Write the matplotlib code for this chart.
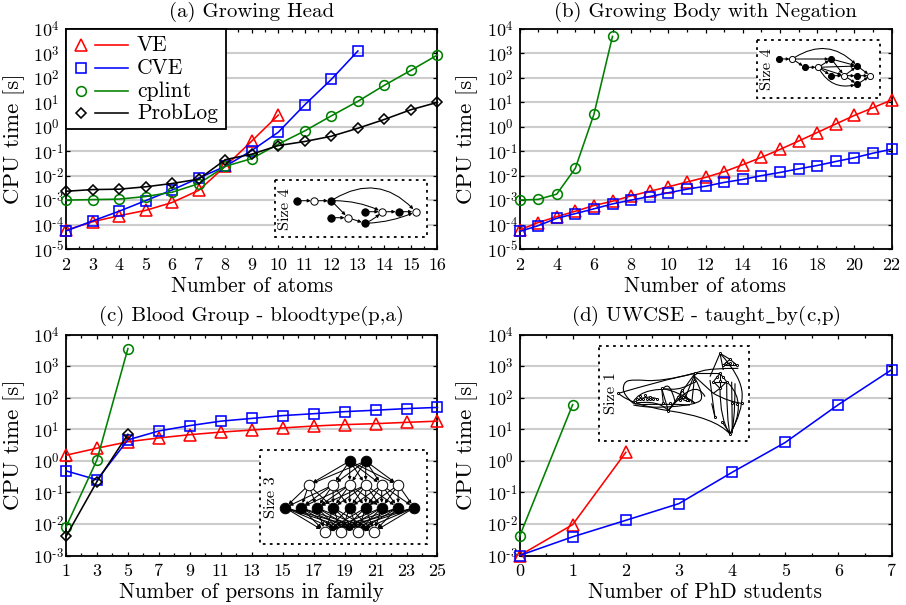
import matplotlib
matplotlib.use("Agg")
import matplotlib.pyplot as plt
from matplotlib.lines import Line2D
from matplotlib.patches import FancyArrowPatch, PathPatch, Rectangle
from matplotlib.path import Path

plt.rcParams['font.family'] = ['cmr10', 'DejaVu Sans']
plt.rcParams['mathtext.fontset'] = 'cm'
plt.rcParams['axes.formatter.use_mathtext'] = True
plt.rcParams['axes.unicode_minus'] = False

W, H = 906, 605

# (a) Growing Head
a_x_ve = list(range(2, 11))
a_ve = [5.8e-5, 1.3e-4, 2.3e-4, 3.8e-4, 8e-4, 2.5e-3, 0.024, 0.26, 3]
a_x_cve = list(range(2, 14))
a_cve = [5.5e-5, 1.4e-4, 3.5e-4, 9.5e-4, 2.6e-3, 8e-3, 0.024, 0.107, 0.6, 8, 87, 1260]
a_x_cplint = list(range(2, 17))
a_cplint = [1e-3, 1.05e-3, 1.1e-3, 1.4e-3, 2.1e-3, 4.7e-3, 0.024, 0.05, 0.195, 0.68, 2.8, 11, 50, 204, 870]
a_x_problog = list(range(2, 17))
a_problog = [2.3e-3, 2.7e-3, 2.8e-3, 3.5e-3, 4.8e-3, 7.2e-3, 0.045, 0.076, 0.17, 0.25, 0.41, 0.87, 2, 5, 10]

# (b) Growing Body with Negation
b_x_ve = list(range(2, 23))
b_ve = [6e-5, 1.2e-4, 2.1e-4, 3.5e-4, 6e-4, 9e-4, 1.5e-3, 2.3e-3, 3.5e-3, 5.5e-3, 8.5e-3,
        0.0145, 0.028, 0.056, 0.118, 0.26, 0.58, 1.3, 2.9, 6, 12.5]
b_x_cve = list(range(2, 23))
b_cve = [5.2e-5, 9e-5, 1.8e-4, 2.8e-4, 4.4e-4, 7e-4, 1e-3, 1.4e-3, 2e-3, 2.8e-3, 3.7e-3,
         5.3e-3, 7e-3, 0.01, 0.0135, 0.019, 0.026, 0.038, 0.054, 0.083, 0.12]
b_x_cplint = list(range(2, 8))
b_cplint = [1e-3, 1.07e-3, 1.75e-3, 0.02, 3.2, 5000]

# (c) Blood Group
c_x_ve = list(range(1, 26, 2))
c_ve = [1.5, 2.5, 4, 5.3, 6.7, 8.1, 9.4, 11, 12.6, 14, 15, 16.5, 18]
c_x_cve = list(range(1, 26, 2))
c_cve = [0.48, 0.25, 4.6, 8.8, 13, 18, 22, 27, 31, 36, 40, 45, 49]
c_x_cplint = [1, 3, 5]
c_cplint = [8e-3, 1.07, 3600]
c_x_problog = [1, 3, 5]
c_problog = [4e-3, 0.22, 6.9]

# (d) UWCSE
d_x_ve = [0, 1, 2]
d_ve = [1e-3, 9.5e-3, 1.85]
d_x_cve = list(range(0, 8))
d_cve = [1e-3, 3.9e-3, 0.013, 0.044, 0.43, 3.8, 60, 760]
d_x_cplint = [0, 1]
d_cplint = [4e-3, 60]

series_names = ['VE', 'CVE', 'cplint', 'ProbLog']
series_colors = ['#ff0000', '#0000ff', '#008000', '#000000']
series_markers = ['^', 's', 'o', 'D']
series_sizes = [8.0, 7.0, 7.0, 5.0]


def px_axes(left, right, top, bottom):
    return fig.add_axes([left / W, 1 - bottom / H, (right - left) / W, (bottom - top) / H])


def draw_series(ax, idx, x, y):
    ax.plot(x, y, color=series_colors[idx], marker=series_markers[idx], ms=series_sizes[idx],
            mfc='none', mew=1.15, lw=1.15, clip_on=False, zorder=3 + idx * 0.1)


def pow_label(p):
    # short hyphen in the exponent, the cm minus sign is too wide here
    if p < 0:
        return '$10^{\\text{\u2010}%d}$' % -p
    return '$10^{%d}$' % p


def style_axes(ax, title, xlabel, xticks, xminor, ylow, xlabel_y, title_pad):
    ax.set_yscale('log')
    ax.set_xlim(xticks[0], xticks[-1])
    ax.set_ylim(10.0 ** ylow, 1e4)
    ax.set_xticks(xticks)
    ax.set_xticklabels([str(t) for t in xticks], fontsize=13)
    ax.set_xticks(xminor, minor=True)
    ypow = list(range(ylow, 5))
    ax.set_yticks([10.0 ** p for p in ypow])
    ax.set_yticklabels([pow_label(p) for p in ypow], fontsize=13, ha='left')
    ax.yaxis.set_minor_locator(matplotlib.ticker.NullLocator())
    ax.tick_params(axis='both', which='major', direction='in', top=True, right=True, length=3.2, width=0.9)
    ax.tick_params(axis='x', which='major', pad=6)
    # the exponent labels start at the same x, so pad is the full gap to the axis
    ax.tick_params(axis='y', which='major', pad=23.5)
    ax.tick_params(which='minor', direction='in', top=True, length=2.2, width=0.9)
    ax.grid(axis='y', color='#cccccc', lw=1.5, zorder=1)
    ax.set_axisbelow(True)
    for s in ax.spines.values():
        s.set_linewidth(1.3)
    ax.set_title(title, fontsize=15, pad=title_pad)
    ax.set_xlabel(xlabel, fontsize=15.3, va='center')
    ax.xaxis.set_label_coords(0.5, xlabel_y)
    ax.set_ylabel('CPU time [s]', fontsize=16.5, va='center')
    ax.yaxis.set_label_coords(-52 / 371, 0.5)


fig = plt.figure(figsize=(W / 100, H / 100), dpi=100)

ax_a = px_axes(66, 437.5, 29, 249)
draw_series(ax_a, 0, a_x_ve, a_ve)
draw_series(ax_a, 1, a_x_cve, a_cve)
draw_series(ax_a, 2, a_x_cplint, a_cplint)
draw_series(ax_a, 3, a_x_problog, a_problog)
style_axes(ax_a, '(a) Growing Head', 'Number of atoms', list(range(2, 17)),
           [i + 0.5 for i in range(2, 16)], -5, -37 / 220, 8.5)

ax_b = px_axes(519.5, 891.5, 29, 249)
draw_series(ax_b, 0, b_x_ve, b_ve)
draw_series(ax_b, 1, b_x_cve, b_cve)
draw_series(ax_b, 2, b_x_cplint, b_cplint)
style_axes(ax_b, '(b) Growing Body with Negation', 'Number of atoms', list(range(2, 23, 2)),
           list(range(3, 22, 2)), -5, -37 / 220, 8.5)

ax_c = px_axes(66, 437.5, 334.5, 555.5)
draw_series(ax_c, 0, c_x_ve, c_ve)
draw_series(ax_c, 1, c_x_cve, c_cve)
draw_series(ax_c, 2, c_x_cplint, c_cplint)
draw_series(ax_c, 3, c_x_problog, c_problog)
style_axes(ax_c, '(c) Blood Group - bloodtype(p,a)', 'Number of persons in family', list(range(1, 26, 2)),
           list(range(2, 25, 2)), -3, -37 / 221, 9.5)

ax_d = px_axes(519.5, 891.5, 334.5, 555.5)
draw_series(ax_d, 0, d_x_ve, d_ve)
draw_series(ax_d, 1, d_x_cve, d_cve)
draw_series(ax_d, 2, d_x_cplint, d_cplint)
style_axes(ax_d, r'(d) UWCSE - taught$\_$by(c,p)', 'Number of PhD students', list(range(0, 8)),
           [i + 0.5 for i in range(0, 7)], -3, -37 / 221, 9.5)

# overlay in pixel coordinates for legend and insets
ov = fig.add_axes([0, 0, 1, 1], zorder=10)
ov.set_xlim(0, W)
ov.set_ylim(H, 0)
ov.axis('off')

# legend
ov.add_patch(Rectangle((66, 29), 160, 100, fc='white', ec='black', lw=1.3))
legend_rows = [45, 68, 91, 113]
for i, name in enumerate(series_names):
    yy = legend_rows[i]
    ov.add_line(Line2D([81], [yy], color=series_colors[i], marker=series_markers[i],
                       ms=series_sizes[i], mfc='none', mew=1.15))
    ov.add_line(Line2D([95, 128], [yy, yy], color=series_colors[i], lw=1.15))
    ov.text(137, yy, name, fontsize=15.5, va='center', ha='left')


def inset_box(x0, x1, y0, y1, label, lx, ly):
    ov.add_patch(Rectangle((x0, y0), x1 - x0, y1 - y0, fc='white', ec='black', lw=1.3,
                           ls=(0, (1.5, 2.4))))
    ov.text(lx, ly, label, rotation=90, fontsize=11.8, ha='center', va='center')


def arrow(p, q, rad=0.0, ms=5, shrink=2.5):
    ov.add_patch(FancyArrowPatch(p, q, arrowstyle='-|>', mutation_scale=ms, lw=0.75, color='black',
                                 connectionstyle='arc3,rad=%g' % rad, shrinkA=shrink, shrinkB=shrink,
                                 zorder=4))


def nodes(points, filled, ms):
    for p, f in zip(points, filled):
        ov.add_line(Line2D([p[0]], [p[1]], marker='o', ms=ms, mfc='black' if f else 'white',
                           mec='black', mew=0.7, zorder=5))


# inset (a)
inset_box(275, 427, 180, 237, 'Size 4', 285, 209)
ia_pts = [(297.3, 200.7), (314.3, 200.7), (331.3, 200.7), (331.3, 217.7), (348, 217.7),
          (365, 211.7), (382, 211.7), (399, 211.7), (415.7, 211.7), (365, 223.3)]
ia_fill = [1, 0, 1, 1, 0, 1, 0, 1, 0, 1]
ia_edges = [(0, 1, 0), (1, 2, 0), (2, 4, 0), (3, 4, 0), (4, 9, 0), (5, 6, 0), (6, 7, 0), (7, 8, 0),
            (9, 6, 0.1), (9, 8, 0.1), (2, 6, -0.12), (2, 8, -0.42)]
for s, e, r in ia_edges:
    arrow(ia_pts[s], ia_pts[e], r, 4.5, 2.5)
nodes(ia_pts, ia_fill, 5.3)

# inset (b)
inset_box(757, 880, 40, 98, 'Size 4', 767.5, 69)
ib_pts = [(779.3, 59), (792.3, 59), (805, 67.3), (818.3, 67.3), (831.3, 59), (831.3, 75.7),
          (844.3, 75.7), (857.3, 66), (857.3, 75.7), (857.3, 84.3), (870.3, 75.7)]
ib_fill = [1, 0, 1, 0, 1, 1, 0, 1, 1, 1, 0]
ib_edges = [(0, 1, 0), (1, 2, 0), (2, 3, 0), (1, 4, 0), (3, 4, 0), (3, 5, 0), (3, 6, 0), (5, 6, 0),
            (3, 7, 0), (4, 7, 0), (4, 6, 0), (6, 7, 0), (6, 8, 0), (6, 9, 0), (7, 10, 0), (8, 10, 0),
            (9, 10, 0), (1, 7, -0.42), (3, 9, 0.4)]
for s, e, r in ib_edges:
    arrow(ib_pts[s], ib_pts[e], r, 4, 2)
nodes(ib_pts, ib_fill, 4.4)

# inset (c)
inset_box(260, 427, 450, 544, 'Size 3', 271, 497)
ic_top = [(349.7, 461), (365.7, 461)]
ic_mid = [(x, 485) for x in [308.7, 333, 349.7, 365.7, 381.7, 398.3]]
ic_low = [(x, 507.7) for x in [285, 301, 317, 333.3, 349.7, 365.7, 381.7, 398, 414.3]]
ic_bot = [(x, 531.7) for x in [325, 341.3, 357.7, 374]]
for p in ic_top:
    for q in ic_mid:
        arrow(p, q, 0, 4.5, 3.5)
for k, p in enumerate(ic_mid):
    for j, q in enumerate(ic_low):
        if abs(j - (k * 1.5 + 0.3)) < 3.2:
            arrow(p, q, 0, 4.5, 3.5)
for p in ic_low:
    for q in ic_bot:
        arrow(p, q, 0, 5.5, 3.5)
nodes(ic_top, [1, 1], 7.6)
nodes(ic_mid, [0] * 6, 7.6)
nodes(ic_low, [1] * 9, 7.6)
nodes(ic_bot, [0] * 4, 7.6)

inset_box(599, 749, 346, 441, 'Size 1', 611, 393)
id_origin = (595, 340)
id_curves = [
    [(70, 160), (190, 125), (300, 100), (345, 85), (430, 85)],
    [(70, 160), (110, 195), (220, 212)],
    [(115, 190), (85, 165), (85, 128), (110, 118), (200, 125), (300, 100)],
    [(115, 185), (130, 160), (200, 145), (260, 150), (300, 125)],
    [(115, 190), (150, 160), (190, 178)],
    [(115, 190), (190, 178), (220, 212)],
    [(115, 195), (160, 205), (300, 195), (330, 170), (300, 115)],
    [(220, 212), (360, 232), (405, 282)],
    [(205, 145), (225, 120), (240, 185)],
    [(200, 145), (255, 155), (300, 190)],
    [(220, 212), (260, 150), (300, 190)],
    [(220, 212), (300, 110), (330, 170)],
    [(200, 145), (220, 212)],
    [(200, 145), (205, 190)],
    [(260, 150), (245, 180), (285, 185)],
    [(260, 150), (285, 185)],
    [(300, 100), (270, 175)],
    [(300, 100), (290, 190)],
    [(300, 100), (220, 212)],
    [(120, 195), (200, 190), (285, 195)],
    [(375, 40), (345, 110)],
    [(375, 40), (440, 110), (443, 215), (405, 282)],
    [(375, 40), (385, 90)],
    [(375, 40), (405, 58)],
    [(300, 110), (355, 160)],
    [(355, 160), (400, 185), (440, 190)],
    [(345, 120), (355, 200), (360, 232)],
    [(375, 145), (375, 240), (405, 282)],
    [(395, 130), (395, 240), (405, 282)],
    [(410, 125), (412, 280)],
    [(400, 130), (430, 160), (430, 240), (405, 282)],
    [(420, 130), (420, 270), (405, 282)],
    [(380, 245), (400, 270), (405, 282)],
    [(355, 125), (375, 100)],
    [(375, 100), (395, 125)],
    [(395, 125), (375, 145)],
    [(375, 145), (355, 125)],
    [(355, 125), (395, 125)],
    [(375, 100), (375, 145)],
    [(375, 145), (355, 160)],
    [(385, 75), (405, 58)],
    [(405, 58), (425, 75)],
    [(425, 75), (385, 75)],
    [(300, 100), (375, 100)],
    [(350, 190), (360, 232)],
]
# small graph nodes
id_small_nodes = [(375, 40), (405, 58), (392, 70), (405, 70), (418, 72), (385, 75), (425, 75),
                  (375, 100), (365, 112), (385, 112), (375, 122), (355, 125), (395, 125), (375, 145),
                  (300, 100), (298, 122), (220, 212), (205, 190), (225, 190), (360, 232), (405, 282),
                  (380, 245), (260, 150), (250, 170), (265, 170), (255, 180), (275, 180),
                  (125, 178), (135, 178), (145, 178), (155, 178), (165, 178), (175, 178), (185, 178),
                  (120, 186), (135, 168), (150, 165), (165, 170), (200, 145), (70, 160),
                  (410, 190), (425, 192), (440, 190)]
for c in id_curves:
    pts = [(x / 3 + id_origin[0], y / 3 + id_origin[1]) for x, y in c]
    verts = [pts[0]]
    codes = [Path.MOVETO]
    for k in range(1, len(pts) - 1):
        mid = ((pts[k][0] + pts[k + 1][0]) / 2, (pts[k][1] + pts[k + 1][1]) / 2)
        end = mid if k < len(pts) - 2 else pts[-1]
        verts += [pts[k], end]
        codes += [Path.CURVE3, Path.CURVE3]
    if len(pts) == 2:
        verts.append(pts[1])
        codes.append(Path.LINETO)
    ov.add_patch(PathPatch(Path(verts, codes), fc='none', ec='black', lw=0.8, zorder=4))
nodes([(x / 3 + id_origin[0], y / 3 + id_origin[1]) for x, y in id_small_nodes],
      [0] * len(id_small_nodes), 1.5)

fig.savefig('out.png', dpi=100)
